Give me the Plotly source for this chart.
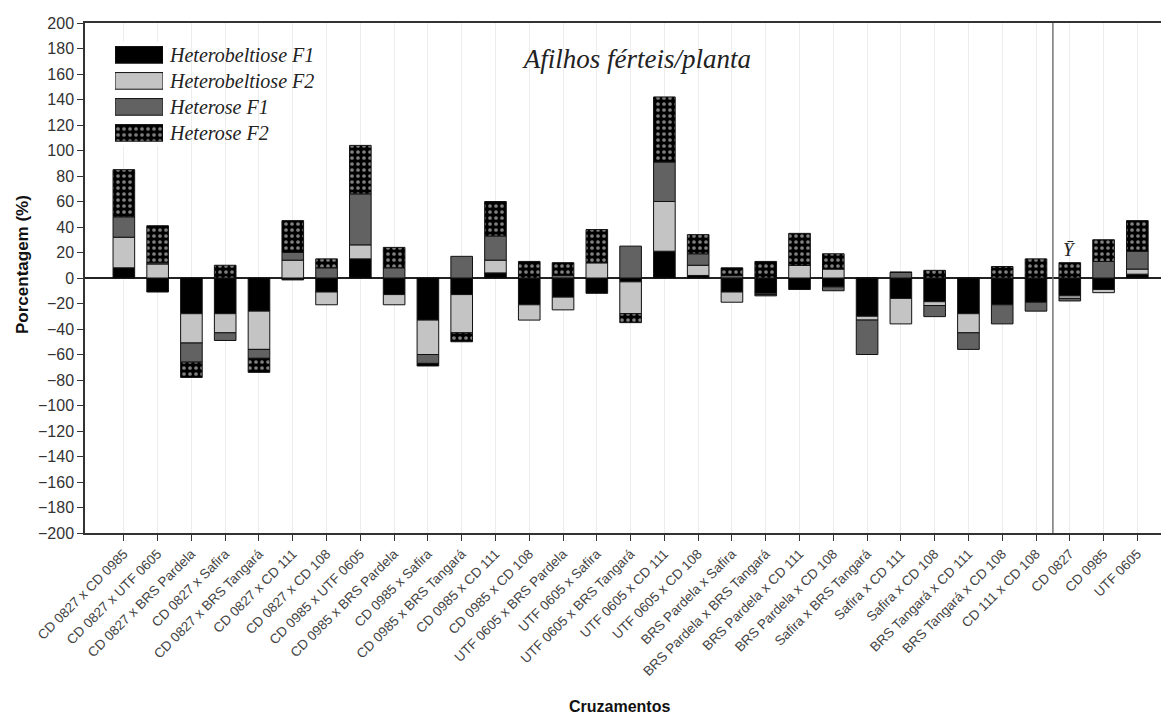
import plotly.graph_objects as go

categories = [
    "CD 0827 x CD 0985", "CD 0827 x UTF 0605", "CD 0827 x BRS Pardela", "CD 0827 x Safira",
    "CD 0827 x BRS Tangará", "CD 0827 x CD 111", "CD 0827 x CD 108", "CD 0985 x UTF 0605",
    "CD 0985 x BRS Pardela", "CD 0985 x Safira", "CD 0985 x BRS Tangará", "CD 0985 x CD 111",
    "CD 0985 x CD 108", "UTF 0605 x BRS Pardela", "UTF 0605 x Safira", "UTF 0605 x BRS Tangará",
    "UTF 0605 x CD 111", "UTF 0605 x CD 108", "BRS Pardela x Safira", "BRS Pardela x BRS Tangará",
    "BRS Pardela x CD 111", "BRS Pardela x CD 108", "Safira x BRS Tangará", "Safira x CD 111",
    "Safira x CD 108", "BRS Tangará x CD 111", "BRS Tangará x CD 108", "CD 111 x CD 108",
    "CD 0827", "CD 0985", "UTF 0605",
]

heterobeltiose_f1 = [8, -11, -28, -28, -26, -1.5, -11, 15, -13, -33, -13, 4, -21, -15, -12, -3,
                     21, 2, -11, -12, -9, -7, -30, -16, -18.6, -28, -21, -19, -14, -9, 3]
heterobeltiose_f2 = [24, 11, -23, -15, -30, 14, -10, 11, -8, -27, -30, 10, -12, -10, 12, -25,
                     39, 8, -8, -1, 10, 7, -3, -20, -3, -15, 0, 0, -2, -2.5, 4]
heterose_f1 = [16, 1, -15, -6, -7, 6, 8, 40, 8, -7, 17, 19, 0, 2, 0, 25,
               31, 9, 2, -1, 0, -3, -27, 4.5, -8.7, -13, -15, -7, -2, 13, 14]
heterose_f2 = [37, 29, -12, 10, -11, 25, 7, 38, 16, -2, -7, 27, 13, 10, 26, -7,
               51, 15, 6, 13, 25, 12, 0, 0, 6, 0, 9, 15, 12, 17, 24]

series_names = ["Heterobeltiose F1", "Heterobeltiose F2", "Heterose F1", "Heterose F2"]
series_values = [heterobeltiose_f1, heterobeltiose_f2, heterose_f1, heterose_f2]
series_colors = ["#000000", "#c4c4c4", "#626262", "#000000"]
series_patterns = ["", "", "", "."]

mean_label = "Ȳ"
mean_category = "CD 0827"
title_text = "Afilhos férteis/planta"
y_title = "Porcentagem (%)"
x_title = "Cruzamentos"

PATTERN = dict(fgcolor="white", bgcolor="black", fillmode="overlay", size=6, solidity=0.3)

fig = go.Figure()

for name, vals, col, pat in zip(series_names, series_values, series_colors, series_patterns):
    marker = dict(color=col, line=dict(color="#111111", width=1))
    if pat:
        marker["pattern"] = dict(shape=pat, **PATTERN)
    fig.add_trace(go.Bar(x=categories, y=vals, name=name, marker=marker,
                         showlegend=False, xaxis="x", yaxis="y"))

# legend swatches drawn on a small inset axis
fig.add_trace(go.Bar(
    y=series_names, x=[1] * len(series_names), orientation="h",
    xaxis="x2", yaxis="y2", showlegend=False, hoverinfo="skip",
    marker=dict(color=series_colors, line=dict(color="#111111", width=1),
                pattern=dict(shape=series_patterns, **PATTERN)),
))

fig.update_layout(
    width=1161, height=726,
    margin=dict(l=85, r=0, t=23, b=193),
    paper_bgcolor="white", plot_bgcolor="white",
    barmode="relative", bargap=0.36,
    font=dict(family="Liberation Sans, Arial", color="#222222"),
    xaxis=dict(
        type="category", range=[-1.15, 30.7],
        showgrid=True, gridcolor="#ededed", gridwidth=1,
        showline=True, linecolor="#333333", linewidth=1.5, mirror=True,
        ticks="outside", ticklen=6, tickcolor="#333333", tickwidth=1.2,
        tickangle=-45, tickfont=dict(size=13.5, color="#444444"),
        zeroline=False,
    ),
    yaxis=dict(
        range=[-200, 200], dtick=20, tick0=0,
        showgrid=False,
        showline=True, linecolor="#333333", linewidth=1.5,
        ticks="outside", ticklen=6, tickcolor="#333333", tickwidth=1.2,
        tickfont=dict(size=16, color="#333333"),
        zeroline=True, zerolinecolor="#222222", zerolinewidth=1.5,
    ),
    xaxis2=dict(domain=[0.0279, 0.0725], anchor="y2", range=[0, 1], visible=False),
    yaxis2=dict(domain=[0.759, 0.963], anchor="x2", side="right", type="category",
                categoryorder="array", categoryarray=series_names[::-1],
                showgrid=False, zeroline=False, showline=False, ticks="",
                ticklabelstandoff=6,
                tickfont=dict(family="Liberation Serif", size=20, style="italic", color="#222222")),
    title=dict(text=title_text, x=0.549, xanchor="center", y=0.92, yanchor="middle",
               xref="container", yref="container",
               font=dict(family="Liberation Serif", size=27, style="italic", color="#222222")),
    shapes=[dict(type="line", xref="x", yref="paper", x0=27.5, x1=27.5, y0=0, y1=1,
                 line=dict(color="#777777", width=1.5))],
    annotations=[
        dict(text=mean_label, x=mean_category, y=22, xref="x", yref="y", showarrow=False,
             font=dict(family="Liberation Serif", size=19, style="italic", color="#222222")),
        dict(text="<b>" + y_title + "</b>", x=0, y=0.5, xref="paper", yref="paper",
             showarrow=False, textangle=-90, xanchor="center", yanchor="middle",
             font=dict(size=17, color="#111111")),
        dict(text="<b>" + x_title + "</b>", x=0, y=0, xref="paper", yref="paper",
             showarrow=False, xanchor="center", yanchor="middle",
             font=dict(size=16, color="#111111")),
    ],
)

# position the axis-title annotations in pixel terms
plot_w = 1161 - 85
plot_h = 726 - 23 - 193
fig.layout.annotations[1].update(x=(22 - 85) / plot_w, y=(533 - 265) / plot_h)
fig.layout.annotations[2].update(x=(619 - 85) / plot_w, y=(533 - 706) / plot_h)

fig.write_html("out.html")
